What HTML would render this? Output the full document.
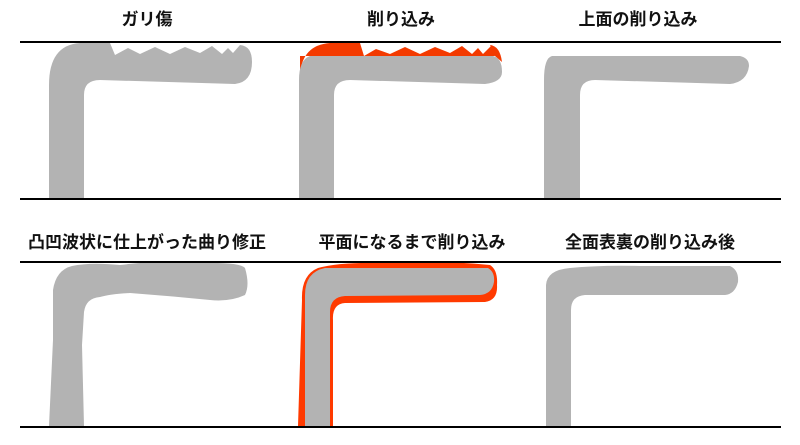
<!DOCTYPE html>
<html><head><meta charset="utf-8"><style>
html,body{margin:0;padding:0;background:#fff;}
svg{display:block}
text{font-family:"Liberation Sans","Noto Sans CJK JP",sans-serif;font-size:17px;font-weight:bold;fill:#111;text-anchor:middle}
</style></head><body>
<svg width="800" height="445" viewBox="0 0 800 445" xmlns="http://www.w3.org/2000/svg">
<text x="147" y="25">ガリ傷</text>
<text x="401" y="25">削り込み</text>
<text x="638" y="25">上面の削り込み</text>
<text x="147" y="248">凸凹波状に仕上がった曲り修正</text>
<text x="412" y="248">平面になるまで削り込み</text>
<text x="650" y="248">全面表裏の削り込み後</text>

<path fill="#b3b3b3" d="M49,199 L49,85 Q49,45 80,43 L110,43 L115,55 L128,48 L140,54 L155,47 L170,54 L185,47 L200,53 L212,46 L222,54 L228,48 L233,53 L240,45 Q252,46 252,62 Q252,82 235,84 L100,80 Q84,80 84,95 L84,199 Z"/>
<path fill="#f33a00" d="M300,75 Q302,45 330,43 L360,43 L364,56 L300,56 Z"/>
<path fill="#f33a00" d="M490,45 Q500,46 502,62 L495,56 Z"/>
<path fill="#f33a00" d="M364,56 L376,49 L390,54 L405,47 L420,54 L435,47 L450,53 L462,46 L472,54 L478,48 L483,54 L492,45 L495,56 Z"/>
<path fill="#b3b3b3" d="M299,199 L299,80 Q299,60 310,56 L493,56 Q502,58 502,72 Q502,82 485,84 L350,80 Q334,80 334,95 L334,199 Z"/>
<path fill="#b3b3b3" d="M544,199 L544,80 Q544,58 552,56 L740,56 Q749,58 749,66 Q747,82 730,84 L595,80 Q580,80 580,95 L580,199 Z"/>

<path fill="#b3b3b3" d="M49,426 L53,340 L53,290 Q56,270 72,266 Q90,262 120,265 Q160,260 200,263 Q240,262 245,268 Q250,285 245,295 Q230,302 210,300 Q170,296 130,293 Q110,294 100,297 Q86,298 84,312 L82,345 L84,426 Z"/>
<path fill="#ff3a00" d="M298,426 L302,300 Q301,275 318,268 Q340,262 380,263 Q440,260 490,265 Q498,270 497,285 Q498,300 485,302 L345,303 Q332,304 333,320 L333,426 Z"/>
<path fill="#b3b3b3" d="M305,426 L305,295 Q305,272 325,268 L488,268 Q495,272 494,282 Q492,294 480,295 L345,296 Q330,297 330,312 L330,426 Z"/>
<path fill="#b3b3b3" d="M546,426 L546,285 Q547,270 570,268 Q600,265 640,266 L730,266 Q739,270 738,282 Q735,294 725,295 L585,295 Q571,296 571,310 L571,426 Z"/>

<g stroke="#000" stroke-width="2">
<line x1="20" y1="42" x2="781" y2="42"/>
<line x1="20" y1="199" x2="781" y2="199"/>
<line x1="20" y1="262" x2="781" y2="262"/>
<line x1="20" y1="427" x2="781" y2="427"/>
</g>
</svg>
</body></html>
